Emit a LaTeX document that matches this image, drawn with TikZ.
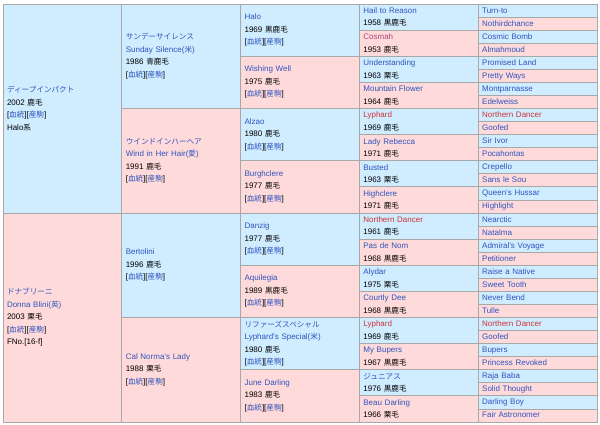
\documentclass[tikz,border=0pt]{standalone}
\usepackage{fontspec}
\setmainfont{Liberation Sans}
\newfontfamily\jp[Scale=0.95]{Noto Sans CJK JP}
\definecolor{PedBlue}{RGB}{208,236,255}
\definecolor{PedPink}{RGB}{255,218,218}
\definecolor{PedLine}{RGB}{168,168,168}
\definecolor{LinkBlue}{RGB}{46,84,190}
\definecolor{LinkRed}{RGB}{204,51,51}
\definecolor{LinkMauve}{RGB}{170,70,120}
\usetikzlibrary{
    positioning,
    calc,
}
\newcommand{\pedlinks}{[\textcolor{LinkBlue}{\jp 血統}][\textcolor{LinkBlue}{\jp 産駒}]}

\begin{document}
\begin{tikzpicture}[x=1pt, y=-1pt,
    cell/.style={rectangle, draw=PedLine, line width=0.8pt, anchor=north west, outer sep=0pt,
        inner xsep=4pt, inner ysep=0pt, align=left, text width=110.8pt, minimum width=118.8pt,
        font=\fontsize{8}{12.5}\selectfont},
    gen1/.style={cell, minimum height=209pt},
    gen2/.style={cell, minimum height=104.5pt},
    gen3/.style={cell, minimum height=52.25pt},
]
    \fill[white] (0,0) rectangle (600,425);
    \useasboundingbox (0,0) rectangle (600,425);

    \node[gen1, fill=PedBlue] (deep) at (3,4) {
        \textcolor{LinkBlue}{\jp ディープインパクト}\\2002 {\jp 鹿毛}\\\pedlinks\\Halo{\jp 系}};
    \node[gen1, fill=PedPink] (donna) at (3,213) {
        \textcolor{LinkBlue}{\jp ドナブリーニ}\\\textcolor{LinkBlue}{Donna Blini({\jp 英})}\\2003 {\jp 栗毛}\\\pedlinks\\FNo.[16-f]};

    \node[gen2, fill=PedBlue] (sunday) at (121.8,4) {
        \textcolor{LinkBlue}{\jp サンデーサイレンス}\\\textcolor{LinkBlue}{Sunday Silence({\jp 米})}\\1986 {\jp 青鹿毛}\\\pedlinks};
    \node[gen2, fill=PedPink] (wind) at (121.8,108.5) {
        \textcolor{LinkBlue}{\jp ウインドインハーヘア}\\\textcolor{LinkBlue}{Wind in Her Hair({\jp 愛})}\\1991 {\jp 鹿毛}\\\pedlinks};
    \node[gen2, fill=PedBlue] (bertolini) at (121.8,213) {
        \textcolor{LinkBlue}{Bertolini}\\1996 {\jp 鹿毛}\\\pedlinks};
    \node[gen2, fill=PedPink] (calnorma) at (121.8,317.5) {
        \textcolor{LinkBlue}{Cal Norma's Lady}\\1988 {\jp 栗毛}\\\pedlinks};

    \node[gen3, fill=PedBlue] (halo) at (240.6,4) {
        \textcolor{LinkBlue}{Halo}\\1969 {\jp 黒鹿毛}\\\pedlinks};
    \node[gen3, fill=PedPink] (wishing) at (240.6,56.25) {
        \textcolor{LinkBlue}{Wishing Well}\\1975 {\jp 鹿毛}\\\pedlinks};
    \node[gen3, fill=PedBlue] (alzao) at (240.6,108.5) {
        \textcolor{LinkBlue}{Alzao}\\1980 {\jp 鹿毛}\\\pedlinks};
    \node[gen3, fill=PedPink] (burghclere) at (240.6,160.75) {
        \textcolor{LinkBlue}{Burghclere}\\1977 {\jp 鹿毛}\\\pedlinks};
    \node[gen3, fill=PedBlue] (danzig) at (240.6,213) {
        \textcolor{LinkBlue}{Danzig}\\1977 {\jp 鹿毛}\\\pedlinks};
    \node[gen3, fill=PedPink] (aquilegia) at (240.6,265.25) {
        \textcolor{LinkBlue}{Aquilegia}\\1989 {\jp 黒鹿毛}\\\pedlinks};
    \node[gen3, fill=PedBlue] (lyspecial) at (240.6,317.5) {
        \textcolor{LinkBlue}{\jp リファーズスペシャル}\\\textcolor{LinkBlue}{Lyphard's Special({\jp 米})}\\1980 {\jp 鹿毛}\\\pedlinks};
    \node[gen3, fill=PedPink] (june) at (240.6,369.75) {
        \textcolor{LinkBlue}{June Darling}\\1983 {\jp 鹿毛}\\\pedlinks};

    \foreach \nm/\yy/\ct/\cl [count=\i from 0] in {
        Hail to Reason/1958/黒鹿毛/LinkBlue, Cosmah/1953/鹿毛/LinkMauve,
        Understanding/1963/栗毛/LinkBlue, Mountain Flower/1964/鹿毛/LinkBlue,
        Lyphard/1969/鹿毛/LinkRed, Lady Rebecca/1971/鹿毛/LinkBlue,
        Busted/1963/栗毛/LinkBlue, Highclere/1971/鹿毛/LinkBlue,
        Northern Dancer/1961/鹿毛/LinkRed, Pas de Nom/1968/黒鹿毛/LinkBlue,
        Alydar/1975/栗毛/LinkBlue, Courtly Dee/1968/黒鹿毛/LinkBlue,
        Lyphard/1969/鹿毛/LinkRed, My Bupers/1967/黒鹿毛/LinkBlue,
        {\jp ジュニアス}/1976/黒鹿毛/LinkBlue, Beau Darling/1966/栗毛/LinkBlue} {
        \ifodd\i \def\bg{PedPink}\else \def\bg{PedBlue}\fi
        \node[cell, fill=\bg, minimum height=26.125pt] (g4-\i) at (359.4,4+26.125*\i) {
            \textcolor{\cl}{\nm}\\\yy\ {\jp \ct}};
    }

    \foreach \nm/\cl [count=\i from 0] in {
        Turn-to/LinkBlue, Nothirdchance/LinkBlue, Cosmic Bomb/LinkBlue, Almahmoud/LinkBlue,
        Promised Land/LinkBlue, Pretty Ways/LinkBlue, Montparnasse/LinkBlue, Edelweiss/LinkBlue,
        Northern Dancer/LinkRed, Goofed/LinkBlue, Sir Ivor/LinkBlue, Pocahontas/LinkBlue,
        Crepello/LinkBlue, Sans le Sou/LinkBlue, Queen's Hussar/LinkBlue, Highlight/LinkBlue,
        Nearctic/LinkBlue, Natalma/LinkBlue, Admiral's Voyage/LinkBlue, Petitioner/LinkBlue,
        Raise a Native/LinkBlue, Sweet Tooth/LinkBlue, Never Bend/LinkBlue, Tulle/LinkBlue,
        Northern Dancer/LinkRed, Goofed/LinkBlue, Bupers/LinkBlue, Princess Revoked/LinkBlue,
        Raja Baba/LinkBlue, Solid Thought/LinkBlue, Darling Boy/LinkBlue, Fair Astronomer/LinkBlue} {
        \ifodd\i \def\bg{PedPink}\else \def\bg{PedBlue}\fi
        \node[cell, fill=\bg, minimum height=13.0625pt] (g5-\i) at (478.2,4+13.0625*\i) {
            \textcolor{\cl}{\strut\nm}};
    }
\end{tikzpicture}
\end{document}
